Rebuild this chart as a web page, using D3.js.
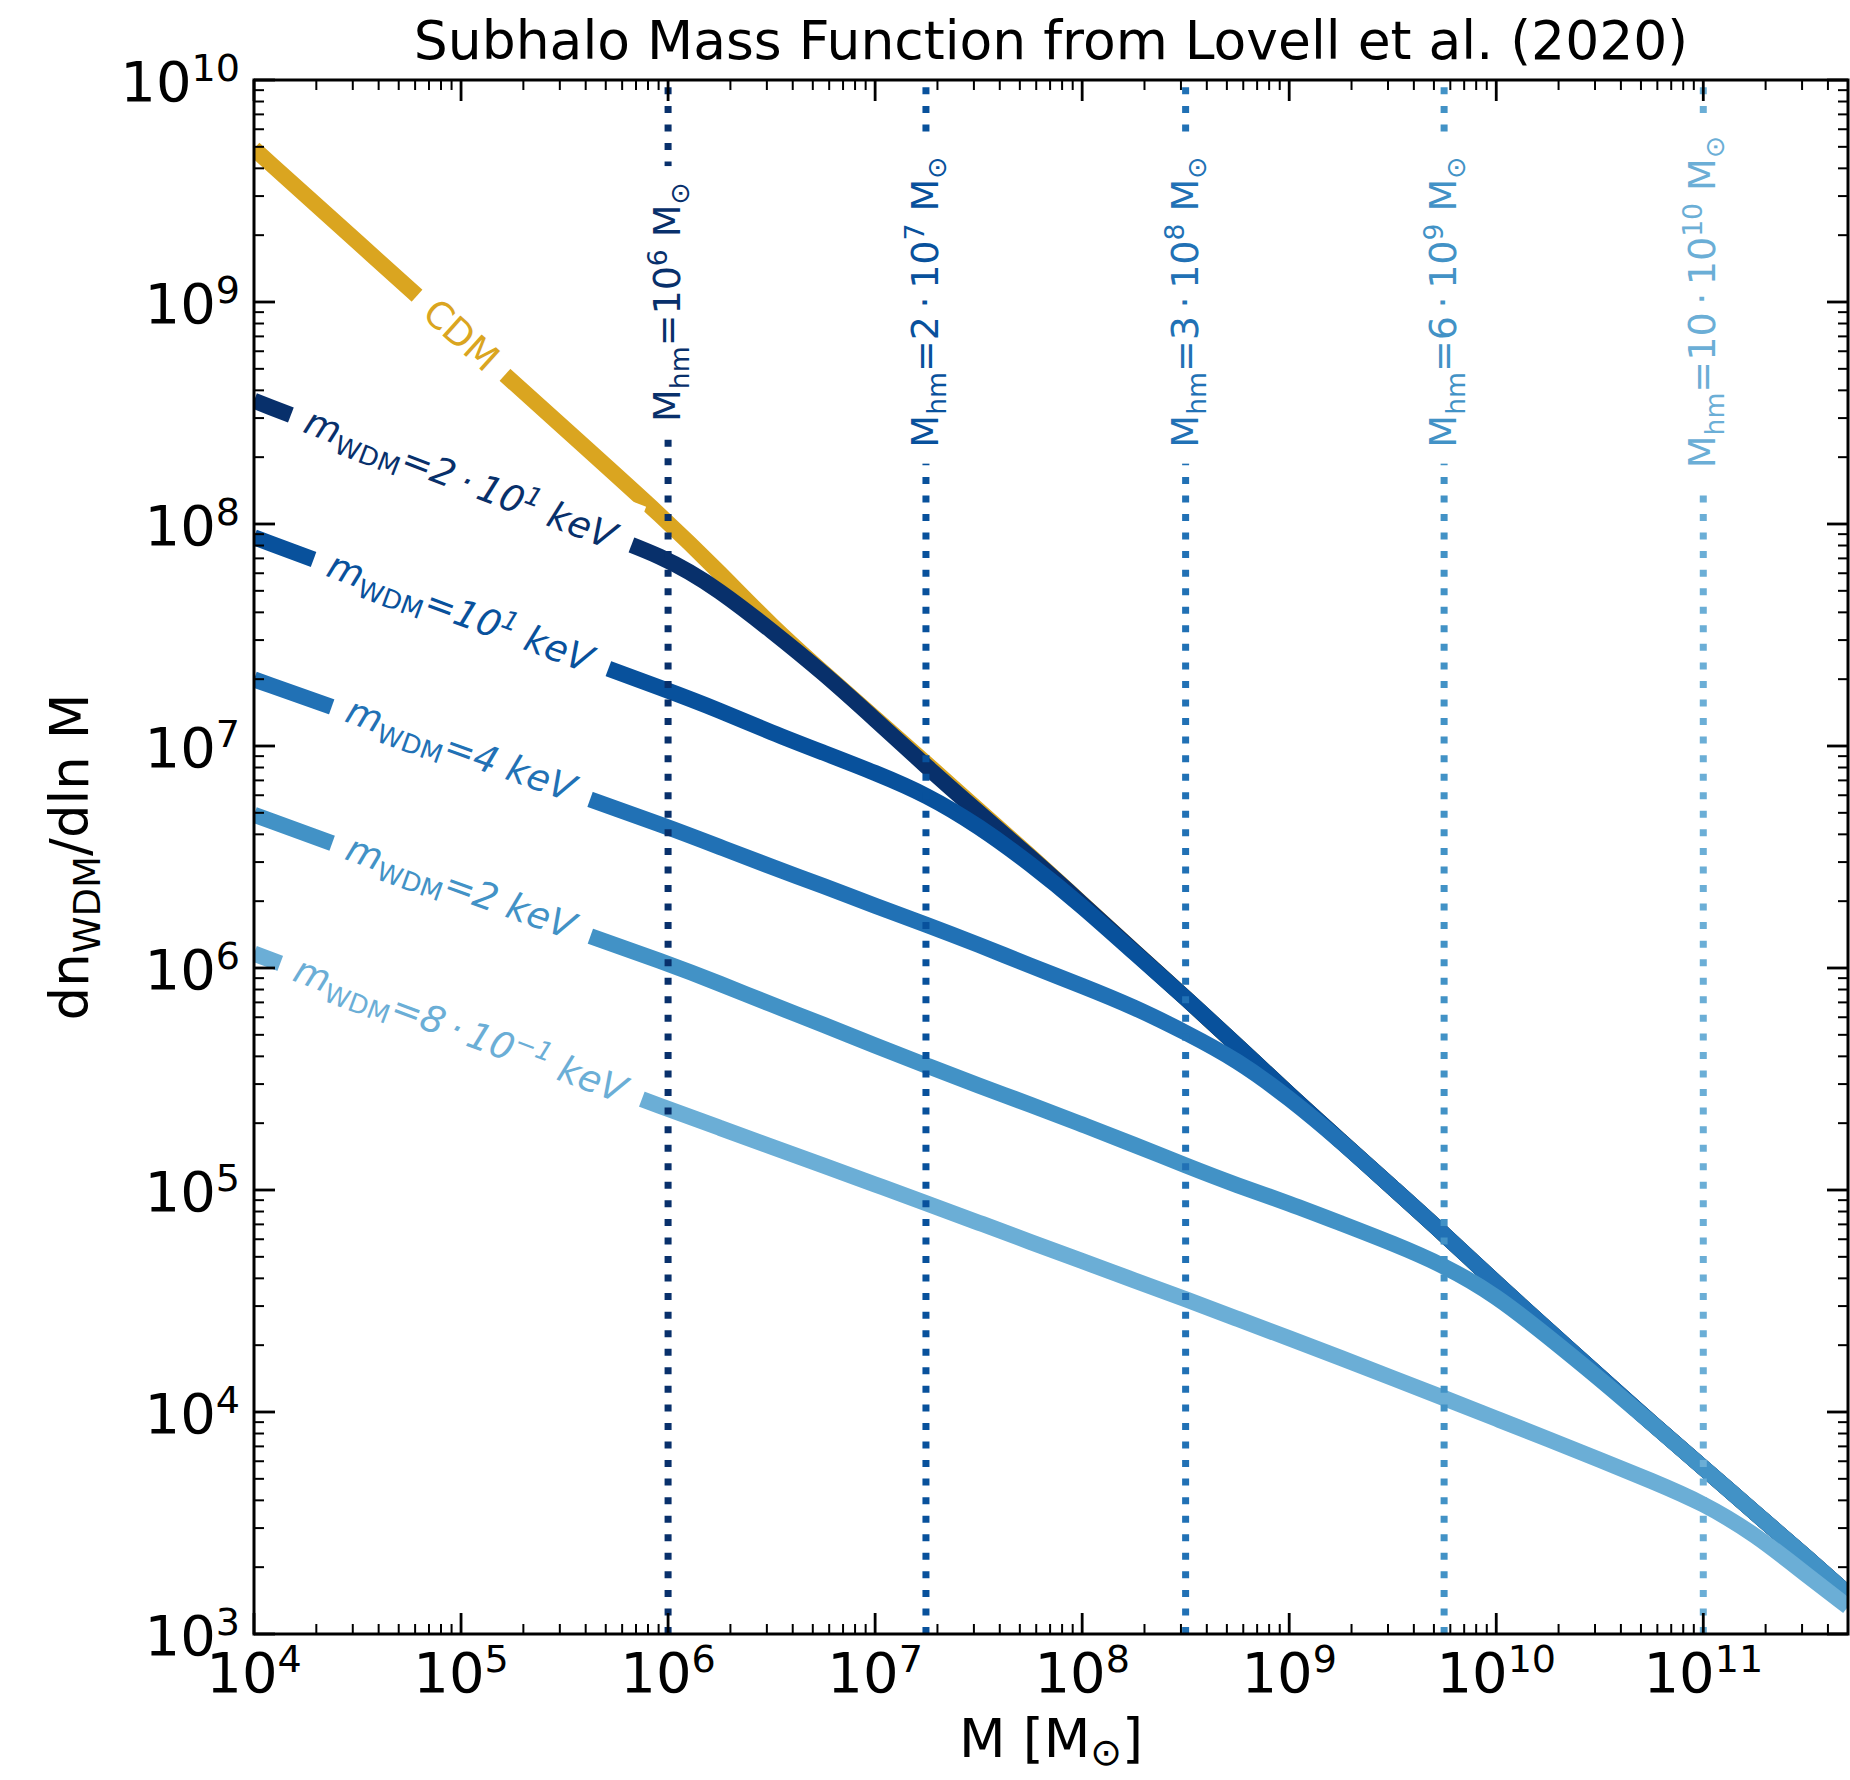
<!DOCTYPE html>
<html><head><meta charset="utf-8">
<script src="https://cdn.jsdelivr.net/npm/d3@7"></script>
<style>body{margin:0;background:#fff;} text{font-family:"DejaVu Sans",sans-serif;}</style>
</head><body>
<svg id="chart" width="1850" height="1780" xmlns="http://www.w3.org/2000/svg"></svg>
<script>
// ---------------- DATA ----------------
const masses = [1e4, 3.162e4, 1e5, 3.162e5, 1e6, 1.778e6, 3.162e6, 5.623e6, 1e7, 1.778e7, 3.162e7, 5.623e7,
  1e8, 1.778e8, 3.162e8, 5.623e8, 1e9, 1.778e9, 3.162e9, 5.623e9, 1e10, 1.778e10, 3.162e10, 5.623e10,
  1e11, 1.778e11, 3.162e11, 5e11];

const cdmValues = [4.898e9, 1.862e9, 7.079e8, 2.692e8, 1.023e8, 6.026e7, 3.467e7, 2.138e7, 1.334e7, 8.318e6, 5.129e6, 3.199e6,
  1.950e6, 1.189e6, 7.328e5, 4.467e5, 2.692e5, 1.660e5, 1.023e5, 6.310e4, 3.802e4, 2.344e4, 1.445e4, 8.913e3,
  5.623e3, 3.508e3, 2.213e3, 1.514e3];
const wdm20Values = [3.589e8, 2.377e8, 1.574e8, 1.042e8, 7.079e7, 5.012e7, 3.311e7, 2.138e7, 1.318e7, 8.035e6, 5.012e6, 3.162e6,
  1.950e6, 1.189e6, 7.328e5, 4.467e5, 2.692e5, 1.660e5, 1.023e5, 6.310e4, 3.802e4, 2.344e4, 1.445e4, 8.913e3,
  5.623e3, 3.508e3, 2.213e3, 1.514e3];
const wdm10Values = [8.710e7, 5.848e7, 3.936e7, 2.630e7, 1.778e7, 1.445e7, 1.148e7, 9.333e6, 7.586e6, 6.026e6, 4.365e6, 2.951e6,
  1.905e6, 1.175e6, 7.328e5, 4.467e5, 2.692e5, 1.660e5, 1.023e5, 6.310e4, 3.802e4, 2.344e4, 1.445e4, 8.913e3,
  5.623e3, 3.508e3, 2.213e3, 1.514e3];
const wdm4Values = [1.995e7, 1.365e7, 9.333e6, 6.310e6, 4.315e6, 3.508e6, 2.851e6, 2.344e6, 1.905e6, 1.567e6, 1.274e6, 1.023e6,
  8.318e5, 6.683e5, 5.129e5, 3.846e5, 2.600e5, 1.660e5, 1.023e5, 6.310e4, 3.802e4, 2.344e4, 1.445e4, 8.913e3,
  5.623e3, 3.508e3, 2.213e3, 1.514e3];
const wdm2Values = [4.898e6, 3.311e6, 2.239e6, 1.531e6, 1.047e6, 8.511e5, 6.839e5, 5.559e5, 4.467e5, 3.631e5, 2.951e5, 2.427e5,
  1.972e5, 1.603e5, 1.288e5, 1.047e5, 8.710e4, 7.079e4, 5.754e4, 4.571e4, 3.350e4, 2.188e4, 1.413e4, 8.913e3,
  5.623e3, 3.508e3, 2.213e3, 1.514e3];
const wdm08Values = [1.161e6, 7.762e5, 5.188e5, 3.467e5, 2.317e5, 1.905e5, 1.567e5, 1.288e5, 1.059e5, 8.710e4, 7.129e4, 5.834e4,
  4.786e4, 3.926e4, 3.221e4, 2.630e4, 2.148e4, 1.750e4, 1.422e4, 1.153e4, 9.333e3, 7.551e3, 6.095e3, 4.898e3,
  3.890e3, 2.818e3, 1.841e3, 1.327e3];

const halfModeMasses = [1.0e6, 1.76e7, 3.16e8, 5.6e9, 1.0e11];
const DOT = '\u2009\u00b7\u2009';
const halfModeLabels = [
  [{t:'M'},{t:'hm',sub:true},{t:'=10'},{t:'6',sup:true},{t:' M'},{t:'\u2299',sub:true}],
  [{t:'M'},{t:'hm',sub:true},{t:'=2'+DOT+'10'},{t:'7',sup:true},{t:' M'},{t:'\u2299',sub:true}],
  [{t:'M'},{t:'hm',sub:true},{t:'=3'+DOT+'10'},{t:'8',sup:true},{t:' M'},{t:'\u2299',sub:true}],
  [{t:'M'},{t:'hm',sub:true},{t:'=6'+DOT+'10'},{t:'9',sup:true},{t:' M'},{t:'\u2299',sub:true}],
  [{t:'M'},{t:'hm',sub:true},{t:'=10'+DOT+'10'},{t:'10',sup:true},{t:' M'},{t:'\u2299',sub:true}]
];
const halfModeLabelY = 1e9;
const curveLabelX = 1e5;

const xTickExps = [4,5,6,7,8,9,10,11];
const yTickExps = [3,4,5,6,7,8,9,10];

const blues = ['#08306b','#08519c','#2171b5','#4292c6','#6baed6'];

const seriesList = [
  {values: cdmValues, color:'#DAA520', label:[{t:'CDM'}]},
  {values: wdm20Values, color:blues[0], label:[{t:'m',it:true},{t:'WDM',sub:true},{t:'=2'+DOT+'10',it:true},{t:'1',sup:true,it:true},{t:' keV',it:true}]},
  {values: wdm10Values, color:blues[1], label:[{t:'m',it:true},{t:'WDM',sub:true},{t:'=10',it:true},{t:'1',sup:true,it:true},{t:' keV',it:true}]},
  {values: wdm4Values, color:blues[2], label:[{t:'m',it:true},{t:'WDM',sub:true},{t:'=4 keV',it:true}]},
  {values: wdm2Values, color:blues[3], label:[{t:'m',it:true},{t:'WDM',sub:true},{t:'=2 keV',it:true}]},
  {values: wdm08Values, color:blues[4], label:[{t:'m',it:true},{t:'WDM',sub:true},{t:'=8'+DOT+'10',it:true},{t:'\u22121',sup:true,it:true},{t:' keV',it:true}]}
];

// ---------------- LAYOUT ----------------
const M = {l:254, r:1848, t:80, b:1634};
const svg = d3.select('#chart');
const x = d3.scaleLog().domain([1e4, 5e11]).range([M.l, M.r]);
const y = d3.scaleLog().domain([1e3, 1e10]).range([M.b, M.t]);

svg.append('rect').attr('width',1850).attr('height',1780).attr('fill','#fff');
svg.append('defs').append('clipPath').attr('id','clip')
  .append('rect').attr('x',M.l).attr('y',M.t).attr('width',M.r-M.l).attr('height',M.b-M.t);

function richText(textSel, parts, size, opt){
  opt = opt || {};
  const ratio = opt.ratio || 0.7;
  const subShift = opt.sub != null ? opt.sub : 0.22*size;
  const supShift = opt.sup != null ? opt.sup : -0.36*size;
  let shift = 0;
  parts.forEach(p => {
    const ts = textSel.append('tspan').text(p.t);
    const target = p.sub ? subShift : (p.sup ? supShift : 0);
    if (target - shift !== 0) ts.attr('dy', target - shift);
    if (p.sub || p.sup) ts.attr('font-size', size*ratio);
    if (p.it) ts.attr('font-style','italic');
    shift = target;
  });
}

const plot = svg.append('g').attr('clip-path','url(#clip)');
const line = d3.line().x((d,i)=>x(masses[i])).y(d=>y(d)).curve(d3.curveBasis);

seriesList.forEach(s => {
  plot.append('path').attr('d', line(s.values)).attr('fill','none')
    .attr('stroke', s.color).attr('stroke-width', 16).attr('stroke-linecap','butt').attr('stroke-linejoin','round');
});

// vertical dotted half-mode lines
halfModeMasses.forEach((mh,i) => {
  plot.append('line').attr('x1',x(mh)).attr('x2',x(mh)).attr('y1',M.b).attr('y2',M.t)
    .attr('stroke', blues[i]).attr('stroke-width',7).attr('stroke-dasharray','7,11.55');
});

function addBoxedLabel(cx, cy, angle, parts, size, color, pad){
  const g = svg.append('g').attr('transform',`translate(${cx},${cy}) rotate(${angle})`);
  const rect = g.append('rect').attr('fill','#fff');
  const t = g.append('text').attr('font-size', size).attr('fill', color).attr('text-anchor','middle');
  richText(t, parts, size);
  const bb = t.node().getBBox();
  const dx = -(bb.x + bb.width/2), dy = -(bb.y + bb.height/2);
  t.attr('transform', `translate(${dx},${dy})`);
  rect.attr('x', bb.x+dx-pad).attr('y', bb.y+dy-pad).attr('width', bb.width+2*pad).attr('height', bb.height+2*pad);
}

// curve labels
seriesList.forEach(s => {
  const i0 = 1, i1 = 3;
  const ang = Math.atan2(y(s.values[i1]) - y(s.values[i0]), x(masses[i1]) - x(masses[i0])) * 180/Math.PI;
  addBoxedLabel(x(curveLabelX), y(s.values[2]), ang, s.label, 37, s.color, 16);
});

// half-mode labels
halfModeMasses.forEach((mh,i) => {
  addBoxedLabel(x(mh), y(halfModeLabelY), -90, halfModeLabels[i], 38, blues[i], 16);
});

// ---------------- AXES ----------------
const axes = svg.append('g');
function minorVals(lo, hi, dmin, dmax){
  const out = [];
  for (let e = lo; e <= hi; e++) for (let k = 2; k <= 9; k++){ const v = k*Math.pow(10,e); if (v > dmin && v < dmax) out.push(v); }
  return out;
}
const xMinor = minorVals(4, 11, 1e4, 5e11);
const yMinor = minorVals(3, 9, 1e3, 1e10);
const majLen = 21, minLen = 10;
xTickExps.forEach(e => {
  const px = x(Math.pow(10,e));
  axes.append('line').attr('x1',px).attr('x2',px).attr('y1',M.b).attr('y2',M.b-majLen).attr('stroke','#000').attr('stroke-width',2.8);
  axes.append('line').attr('x1',px).attr('x2',px).attr('y1',M.t).attr('y2',M.t+majLen).attr('stroke','#000').attr('stroke-width',2.8);
  const t = axes.append('text').attr('x',px).attr('y',1692).attr('font-size',56).attr('text-anchor','middle').attr('fill','#000');
  richText(t, [{t:'10'},{t:String(e),sup:true}], 56, {ratio:0.68, sup:-20});
});
xMinor.forEach(v => {
  const px = x(v);
  axes.append('line').attr('x1',px).attr('x2',px).attr('y1',M.b).attr('y2',M.b-minLen).attr('stroke','#000').attr('stroke-width',2);
  axes.append('line').attr('x1',px).attr('x2',px).attr('y1',M.t).attr('y2',M.t+minLen).attr('stroke','#000').attr('stroke-width',2);
});
yTickExps.forEach(e => {
  const py = y(Math.pow(10,e));
  axes.append('line').attr('x1',M.l).attr('x2',M.l+majLen).attr('y1',py).attr('y2',py).attr('stroke','#000').attr('stroke-width',2.8);
  axes.append('line').attr('x1',M.r).attr('x2',M.r-majLen).attr('y1',py).attr('y2',py).attr('stroke','#000').attr('stroke-width',2.8);
  const t = axes.append('text').attr('x',240).attr('y',py+21).attr('font-size',56).attr('text-anchor','end').attr('fill','#000');
  richText(t, [{t:'10'},{t:String(e),sup:true}], 56, {ratio:0.68, sup:-20});
});
yMinor.forEach(v => {
  const py = y(v);
  axes.append('line').attr('x1',M.l).attr('x2',M.l+minLen).attr('y1',py).attr('y2',py).attr('stroke','#000').attr('stroke-width',2);
  axes.append('line').attr('x1',M.r).attr('x2',M.r-minLen).attr('y1',py).attr('y2',py).attr('stroke','#000').attr('stroke-width',2);
});
axes.append('rect').attr('x',M.l).attr('y',M.t).attr('width',M.r-M.l).attr('height',M.b-M.t)
  .attr('fill','none').attr('stroke','#000').attr('stroke-width',3);

// title & axis labels
svg.append('text').attr('x',(M.l+M.r)/2).attr('y',59).attr('font-size',53.5).attr('text-anchor','middle')
  .attr('fill','#000').text('Subhalo Mass Function from Lovell et al. (2020)');
const xl = svg.append('text').attr('x',(M.l+M.r)/2).attr('y',1757).attr('font-size',54).attr('text-anchor','middle').attr('fill','#000');
richText(xl, [{t:'M [M'},{t:'\u2299',sub:true},{t:']'}], 54, {sub:8});
const yl = svg.append('text').attr('transform',`translate(88,${(M.t+M.b)/2}) rotate(-90)`).attr('font-size',53).attr('text-anchor','middle').attr('fill','#000');
richText(yl, [{t:'dn'},{t:'WDM',sub:true},{t:'/dln M'}], 53);
</script>
</body></html>
